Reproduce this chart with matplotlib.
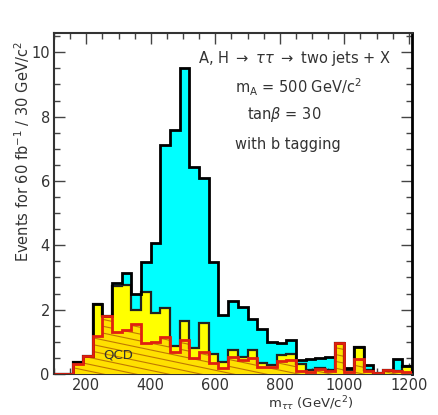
import numpy as np
import matplotlib
matplotlib.use("Agg")
import matplotlib.pyplot as plt
from matplotlib.collections import LineCollection
from matplotlib.ticker import MultipleLocator

# ---- data (30 GeV bins starting at 100 GeV/c^2) ----
bin_start = 100
bin_width = 30
# total (signal + background), cyan
total = [0, 0, 0.38, 0.57, 2.19, 1.80, 2.84, 3.14, 2.48, 3.48, 4.06, 7.12, 7.60,
         9.52, 6.44, 6.08, 3.47, 1.83, 2.28, 2.07, 1.70, 1.39, 1.00, 0.96, 1.05,
         0.45, 0.48, 0.49, 0.52, 0.95, 0.20, 0.85, 0.28, 0.04, 0.12, 0.46, 0.24]
# all backgrounds, yellow
background = [0, 0, 0.38, 0.57, 2.19, 1.80, 2.75, 2.78, 1.99, 2.54, 1.91, 2.06, 0.88,
              1.64, 0.82, 1.60, 0.62, 0.36, 0.75, 0.54, 0.74, 0.33, 0.28, 0.58, 0.62,
              0.30, 0.12, 0.18, 0.12, 0.95, 0.12, 0.85, 0.12, 0.04, 0.12, 0.10, 0.24]
# QCD background, hatched
qcd = [0, 0, 0.31, 0.55, 1.18, 1.80, 1.30, 1.37, 1.54, 0.96, 0.99, 1.16, 0.68,
       1.07, 0.51, 0.69, 0.33, 0.20, 0.54, 0.42, 0.50, 0.23, 0.23, 0.40, 0.45,
       0.10, 0.05, 0.15, 0.10, 0.95, 0.06, 0.46, 0.10, 0.04, 0.12, 0.10, 0.05]

x_ticks = [200, 400, 600, 800, 1000, 1200]
y_ticks = [0, 2, 4, 6, 8, 10]

edges = bin_start + bin_width * np.arange(len(total) + 1)

W, H = 439, 415
fig = plt.figure(figsize=(W / 100, H / 100), dpi=100)
ax = fig.add_axes([54 / W, 1 - 374 / H, (412 - 54) / W, (374 - 33) / H])

txt = "#333333"

# cyan total
ax.stairs(total, edges, fill=True, color="#00FFFF", zorder=1)
ax.stairs(total, edges, color="black", linewidth=2.0, zorder=5)
# yellow background
ax.stairs(background, edges, fill=True, color="#FFFF00", zorder=2)
ax.stairs(background, edges, color="#222222", linewidth=1.6, zorder=4)
# QCD: hatched
qpatch = ax.stairs(qcd, edges, fill=True, color="#FFE000", zorder=3)
segs = []
slope = -0.22
for c in np.arange(-0.05, 0.45, 0.02):
    segs.append([(0, c), (1, c + slope)])
lc = LineCollection(segs, colors="#C07800", linewidths=0.8, transform=ax.transAxes, zorder=3.5)
ax.add_collection(lc)
lc.set_clip_path(qpatch)
ax.stairs(qcd, edges, color="#E02010", linewidth=2.0, zorder=6)
ax.text(300, 0.6, "QCD", fontsize=9.5, color="#333333", ha="center", va="center", zorder=7)

ax.set_xlim(100, 1210)
ax.set_ylim(0, 10.6)
ax.set_xticks(x_ticks)
ax.set_yticks(y_ticks)
ax.xaxis.set_minor_locator(MultipleLocator(50))
ax.yaxis.set_minor_locator(MultipleLocator(0.5))
ax.tick_params(which="both", direction="in", top=True, right=True, colors="#444444",
               labelcolor=txt, labelsize=10.5, width=1)
ax.tick_params(which="major", length=8)
ax.tick_params(which="minor", length=4)
ax.tick_params(axis="x", pad=3)
ax.tick_params(axis="y", pad=3)
for s in ax.spines.values():
    s.set_linewidth(1.5)
    s.set_color("#333333")
ax.spines["right"].set_color("black")
ax.spines["right"].set_linewidth(2)

def ftext(x, y, s, **kw):
    fig.text(x / W, 1 - y / H, s, color=txt, **kw)

ftext(198, 58, r"A, H $\rightarrow$ $\tau\tau$ $\rightarrow$ two jets + X", fontsize=10.5, va="center")
ftext(235, 87, r"m$_\mathregular{A}$ = 500 GeV/c$^\mathregular{2}$", fontsize=10.5, va="center")
ftext(247, 114, r"tan$\beta$ = 30", fontsize=10.5, va="center")
ftext(235, 144, "with b tagging", fontsize=10.5, va="center")

ftext(22, 152, r"Events for 60 fb$^{-1}$ / 30 GeV/c$^2$", fontsize=10.5, rotation=90,
      ha="center", va="center")
ftext(311, 394, r"m$_{\tau\tau}$ (GeV/c$^2$)", fontsize=9.5, ha="center", va="top")

fig.savefig("out.png", dpi=100)
